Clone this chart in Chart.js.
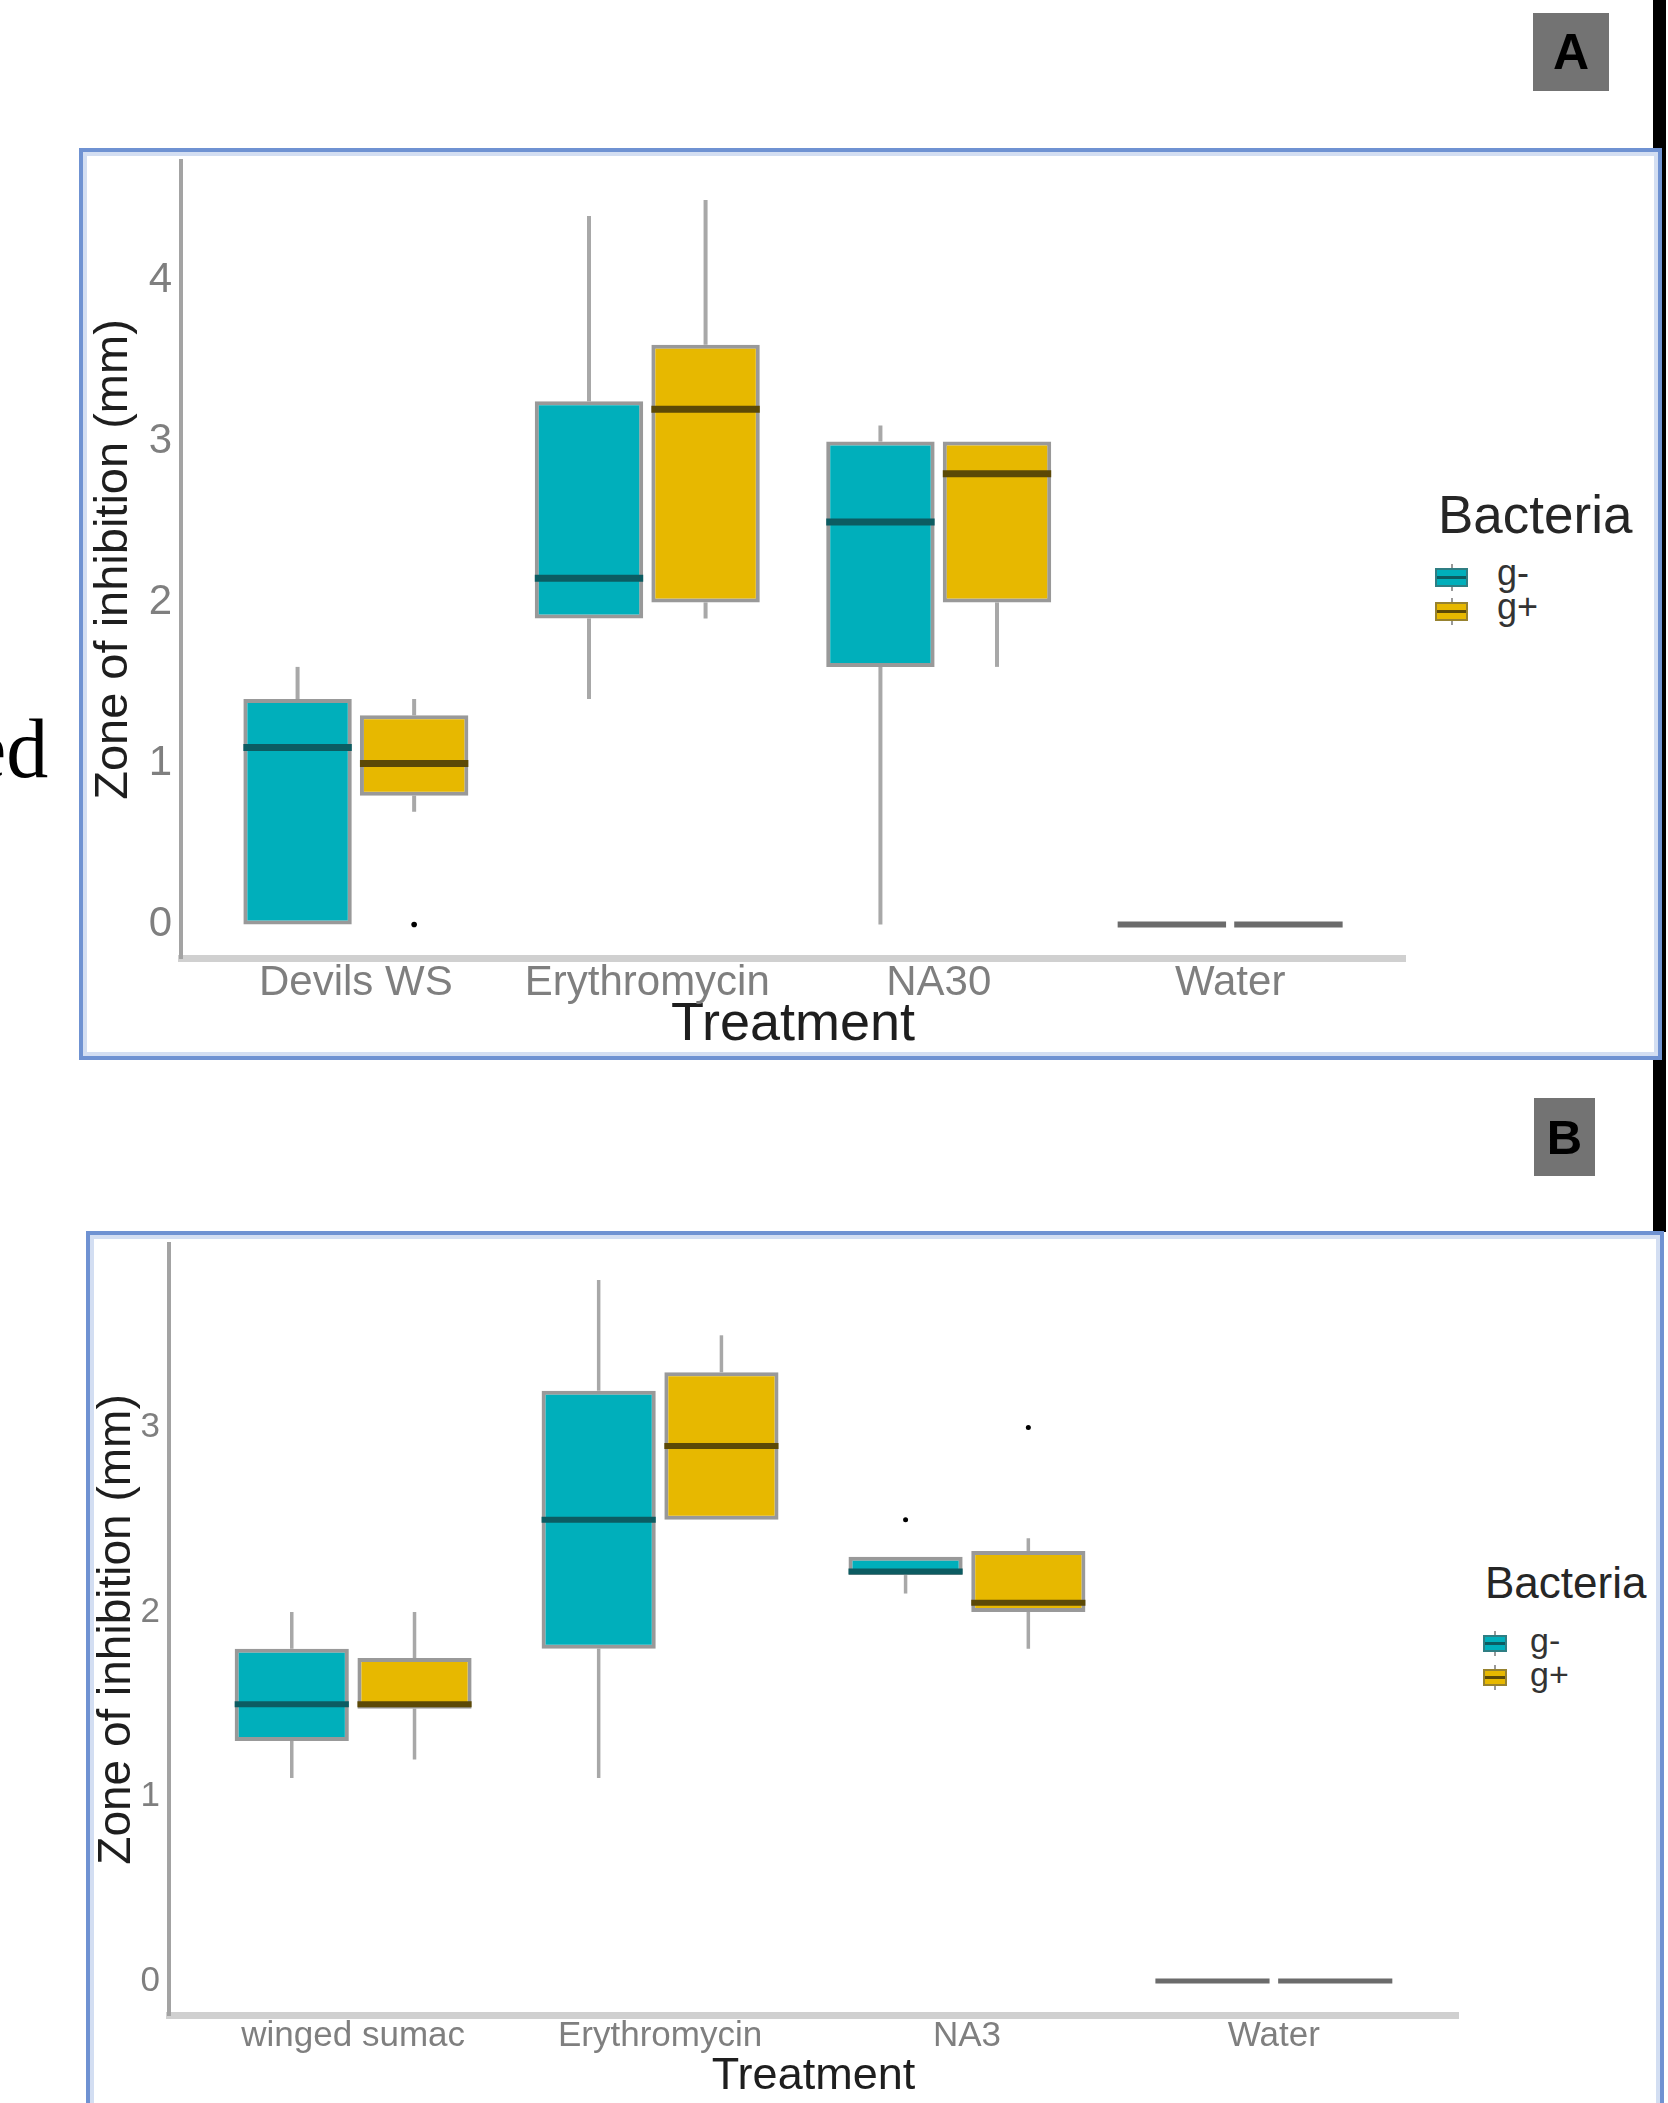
<!DOCTYPE html>
<html lang="en">
<head>
<meta charset="UTF-8">
<title>Zone of inhibition by treatment</title>
<script src="https://cdn.jsdelivr.net/npm/chart.js"></script>
<style>
  html, body { margin: 0; padding: 0; background: #fff; }
  body { width: 1668px; height: 2103px; position: relative; overflow: hidden;
         font-family: "Liberation Sans", Arial, sans-serif; }
  .panel { position: absolute; box-sizing: border-box; border: 4px solid #6f92d2;
           box-shadow: inset 0 0 0 4px #d3def2; background: #fff; }
  .tag { position: absolute; background: #737373; color: #000; font-weight: bold; text-align: center; }
  .rule { position: absolute; background: #000; }
  .cv { position: absolute; }
  .lg-title { position: absolute; color: #262626; line-height: 1; white-space: nowrap; }
  .lg-label { position: absolute; color: #333; line-height: 1; white-space: nowrap; }
  .key { position: absolute; box-sizing: border-box; border: 2px solid rgba(85,85,85,0.55); }
  .key .med { position: absolute; left: 0; right: 0; top: 50%; height: 3px; margin-top: -1.5px; }
  .key::before, .key::after { content: ""; position: absolute; left: 50%; width: 2px; margin-left: -1px;
                              height: 4px; background: #999; }
  .key::before { top: -6px; }
  .key::after { bottom: -6px; }
  .frag { position: absolute; font-family: "Liberation Serif", "Times New Roman", serif; color: #000;
          line-height: 1; white-space: nowrap; }
</style>
</head>
<body>

<div class="rule" style="left:1653px; top:0; width:13px; height:1232px;"></div>
<div class="frag" style="left:-31px; top:707px; font-size:84px;">ed</div>

<div class="tag" style="left:1533px; top:13px; width:76px; height:78px; font-size:50px; line-height:78px;">A</div>
<div class="panel" style="left:79px; top:148px; width:1583px; height:912px;"></div>
<canvas id="chartA" class="cv" style="left:87px; top:156px;" width="1330" height="899"></canvas>
<div id="legendA"></div>

<div class="tag" style="left:1534px; top:1098px; width:61px; height:78px; font-size:49px; line-height:78px;">B</div>
<div class="panel" style="left:86px; top:1231px; width:1578px; height:900px;"></div>
<canvas id="chartB" class="cv" style="left:94px; top:1239px;" width="1376" height="864"></canvas>
<div id="legendB"></div>

<script>
    // panel A: Devils WS
    const catsA = ['Devils WS', 'Erythromycin', 'NA30', 'Water'];
    const aNegMin = [0, 1.4, 0, 0];
    const aNegQ1  = [0, 1.9, 1.6, 0];
    const aNegMed = [1.1, 2.15, 2.5, 0];
    const aNegQ3  = [1.4, 3.25, 3.0, 0];
    const aNegMax = [1.6, 4.4, 3.1, 0];
    const aNegOut = [[], [], [], []];
    const aPosMin = [0.7, 1.9, 1.6, 0];
    const aPosQ1  = [0.8, 2.0, 2.0, 0];
    const aPosMed = [1.0, 3.2, 2.8, 0];
    const aPosQ3  = [1.3, 3.6, 3.0, 0];
    const aPosMax = [1.4, 4.5, 3.0, 0];
    const aPosOut = [[0], [], [], []];
    const yTicksA = [0, 1, 2, 3, 4];

    // panel B: winged sumac
    const catsB = ['winged sumac', 'Erythromycin', 'NA3', 'Water'];
    const bNegMin = [1.1, 1.1, 2.1, 0];
    const bNegQ1  = [1.3, 1.8, 2.2, 0];
    const bNegMed = [1.5, 2.5, 2.22, 0];
    const bNegQ3  = [1.8, 3.2, 2.3, 0];
    const bNegMax = [2.0, 3.8, 2.3, 0];
    const bNegOut = [[], [], [2.5], []];
    const bPosMin = [1.2, 2.5, 1.8, 0];
    const bPosQ1  = [1.475, 2.5, 2.0, 0];
    const bPosMed = [1.5, 2.9, 2.05, 0];
    const bPosQ3  = [1.75, 3.3, 2.33, 0];
    const bPosMax = [2.0, 3.5, 2.4, 0];
    const bPosOut = [[], [], [3.0], []];
    const yTicksB = [0, 1, 2, 3];

    const seriesNames = ['g-', 'g+'];
    const seriesFill = ['#00AFBB', '#E7B800'];
    const seriesMedian = ['#0c5c62', '#5c4906'];
    const legendTitle = 'Bacteria';
    const xTitle = 'Treatment';
    const yTitle = 'Zone of inhibition (mm)';

    const FONT = '"Liberation Sans", Arial, sans-serif';

    function buildPanel(id, o) {
        const series = [
            {min: o.negMin, q1: o.negQ1, med: o.negMed, q3: o.negQ3, max: o.negMax, out: o.negOut},
            {min: o.posMin, q1: o.posQ1, med: o.posMed, q3: o.posQ3, max: o.posMax, out: o.posOut}
        ];

        const datasets = series.map((s, k) => ({
            label: seriesNames[k],
            data: o.cats.map((c, i) => ({x: i + 1, y: [s.q1[i], s.q3[i]]})),
            backgroundColor: seriesFill[k],
            borderColor: 'rgba(85,85,85,0.6)',
            borderWidth: o.boxLine,
            borderSkipped: false,
            categoryPercentage: 0.8,
            barPercentage: 0.93
        }));

        // whiskers behind the boxes, medians and outliers on top
        const boxPlugin = {
            id: 'boxWhiskers',
            beforeDatasetsDraw(chart) {
                const ctx = chart.ctx, y = chart.scales.y;
                ctx.save();
                ctx.strokeStyle = '#a8a8a8';
                ctx.lineWidth = o.whiskerLine;
                series.forEach((s, d) => {
                    chart.getDatasetMeta(d).data.forEach((bar, i) => {
                        ctx.beginPath();
                        ctx.moveTo(bar.x, y.getPixelForValue(s.q3[i]));
                        ctx.lineTo(bar.x, y.getPixelForValue(s.max[i]));
                        ctx.moveTo(bar.x, y.getPixelForValue(s.q1[i]));
                        ctx.lineTo(bar.x, y.getPixelForValue(s.min[i]));
                        ctx.stroke();
                    });
                });
                ctx.restore();
            },
            afterDatasetsDraw(chart) {
                const ctx = chart.ctx, y = chart.scales.y;
                ctx.save();
                series.forEach((s, d) => {
                    chart.getDatasetMeta(d).data.forEach((bar, i) => {
                        const flat = s.q1[i] === s.q3[i];
                        const py = y.getPixelForValue(s.med[i]);
                        ctx.strokeStyle = flat ? '#6b6b6b' : seriesMedian[d];
                        ctx.lineWidth = flat ? o.medLine - 1 : o.medLine;
                        ctx.beginPath();
                        ctx.moveTo(bar.x - bar.width / 2, py);
                        ctx.lineTo(bar.x + bar.width / 2, py);
                        ctx.stroke();
                        ctx.fillStyle = '#000';
                        s.out[i].forEach(v => {
                            ctx.beginPath();
                            ctx.arc(bar.x, y.getPixelForValue(v), o.dot, 0, Math.PI * 2);
                            ctx.fill();
                        });
                    });
                });
                ctx.restore();
            }
        };

        return new Chart(document.getElementById(id), {
            type: 'bar',
            data: {datasets: datasets},
            plugins: [boxPlugin],
            options: {
                responsive: false,
                animation: false,
                layout: {padding: o.pad},
                plugins: {legend: {display: false}, tooltip: {enabled: false}},
                scales: {
                    x: {
                        type: 'linear',
                        min: 0.4,
                        max: 4.6,
                        offset: false,
                        grid: {display: false, drawTicks: false, offset: false},
                        border: {display: true, color: '#d0d0d0', width: 7},
                        afterBuildTicks: (scale) => { scale.ticks = o.cats.map((c, i) => ({value: i + 1})); },
                        afterFit: (scale) => {
                            scale.height = o.xHeight;
                            scale.paddingLeft = 0;
                            scale.paddingRight = 0;
                        },
                        ticks: {
                            autoSkip: false, maxRotation: 0, padding: 0,
                            color: '#7f7f7f', font: {family: FONT, size: o.tickSize},
                            callback: (v) => o.cats[v - 1]
                        },
                        title: {
                            display: true, text: xTitle, color: '#1e1e1e',
                            font: {family: FONT, size: o.xTitleSize, lineHeight: 1},
                            padding: {top: 0, bottom: o.xTitlePad}
                        }
                    },
                    y: {
                        type: 'linear',
                        min: o.yMin,
                        max: o.yMax,
                        grid: {display: false, drawTicks: false},
                        border: {display: true, color: '#a3a3a3', width: 4},
                        afterBuildTicks: (scale) => { scale.ticks = o.yTicks.map(v => ({value: v})); },
                        afterFit: (scale) => {
                            scale.width = o.yWidth;
                            scale.paddingTop = 0;
                            scale.paddingBottom = 0;
                        },
                        ticks: {
                            padding: o.yTickPad,
                            color: '#7f7f7f', font: {family: FONT, size: o.tickSize}
                        },
                        title: {
                            display: true, text: yTitle, color: '#1e1e1e',
                            font: {family: FONT, size: o.yTitleSize, lineHeight: 1},
                            padding: {top: o.yTitlePad, bottom: 0}
                        }
                    }
                }
            }
        });
    }

    function buildLegend(id, g) {
        const host = document.getElementById(id);
        let html = '<div class="lg-title" style="left:' + g.titleX + 'px; top:' + g.titleY +
            'px; font-size:' + g.titleSize + 'px;">' + legendTitle + '</div>';
        seriesNames.forEach((name, k) => {
            const top = g.keyY + k * g.step;
            html += '<div class="key" style="left:' + g.keyX + 'px; top:' + top + 'px; width:' + g.keyW +
                'px; height:' + g.keyH + 'px; background:' + seriesFill[k] + ';">' +
                '<div class="med" style="background:' + seriesMedian[k] + ';"></div></div>';
            html += '<div class="lg-label" style="left:' + g.labelX + 'px; top:' + (g.labelY + k * g.step) +
                'px; font-size:' + g.labelSize + 'px;">' + name + '</div>';
        });
        host.innerHTML = html;
    }

    buildPanel('chartA', {
        cats: catsA, yTicks: yTicksA, yMin: -0.208, yMax: 4.742,
        negMin: aNegMin, negQ1: aNegQ1, negMed: aNegMed, negQ3: aNegQ3, negMax: aNegMax, negOut: aNegOut,
        posMin: aPosMin, posQ1: aPosQ1, posMed: aPosMed, posQ3: aPosQ3, posMax: aPosMax, posOut: aPosOut,
        pad: {left: 0, top: 5, right: 12, bottom: 0},
        yWidth: 94, xHeight: 97, tickSize: 42, yTickPad: 9,
        xTitleSize: 54, xTitlePad: 3, yTitleSize: 47, yTitlePad: 3.5,
        boxLine: 4, whiskerLine: 4, medLine: 7, dot: 2.8
    });

    buildPanel('chartB', {
        cats: catsB, yTicks: yTicksB, yMin: -0.185, yMax: 3.995,
        negMin: bNegMin, negQ1: bNegQ1, negMed: bNegMed, negQ3: bNegQ3, negMax: bNegMax, negOut: bNegOut,
        posMin: bPosMin, posQ1: bPosQ1, posMed: bPosMed, posQ3: bPosQ3, posMax: bPosMax, posOut: bPosOut,
        pad: {left: 0, top: 5, right: 12, bottom: 0},
        yWidth: 75, xHeight: 88, tickSize: 35, yTickPad: 9,
        xTitleSize: 45, xTitlePad: 3.5, yTitleSize: 46, yTitlePad: 0,
        boxLine: 4, whiskerLine: 3.5, medLine: 6, dot: 2.5
    });

    buildLegend('legendA', {
        titleX: 1438, titleY: 488, titleSize: 53,
        keyX: 1435, keyY: 568, keyW: 33, keyH: 19, step: 34,
        labelX: 1497, labelY: 555, labelSize: 36
    });

    buildLegend('legendB', {
        titleX: 1485, titleY: 1561, titleSize: 44,
        keyX: 1483, keyY: 1635, keyW: 24, keyH: 17, step: 34,
        labelX: 1530, labelY: 1623, labelSize: 34
    });
</script>
</body>
</html>
